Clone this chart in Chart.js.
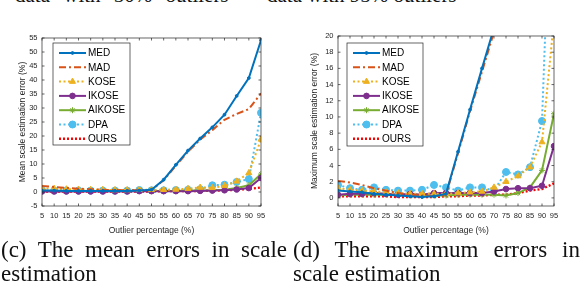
<!DOCTYPE html>
<html>
<head>
<meta charset="utf-8">
<script src="https://cdn.jsdelivr.net/npm/chart.js@4.4.0/dist/chart.umd.min.js"></script>
<style>
body{margin:0;background:#fff;width:580px;height:294px;overflow:hidden;position:relative;font-family:"Liberation Serif","Times New Roman",serif;}
canvas{position:absolute;top:0;}
#c1{left:0px}
#c2{left:290px}
.t{position:absolute;font-size:23px;line-height:23px;white-space:nowrap;color:#111;}
.top{font-size:21px;line-height:21px;}
.j{text-align:justify;text-align-last:justify;white-space:normal;}
</style>
</head>
<body>
<div class="t top" style="left:15px;top:-15px;word-spacing:8px">data with 50% outliers</div>
<div class="t top" style="left:267px;top:-15px">data with 95% outliers</div>
<canvas id="c1" width="290" height="240"></canvas>
<canvas id="c2" width="290" height="240"></canvas>
<div class="t j" style="left:1px;top:238px;width:286px">(c) The mean errors in scale</div>
<div class="t" style="left:1px;top:262px">estimation</div>
<div class="t j" style="left:293px;top:238px;width:287px">(d) The maximum errors in</div>
<div class="t" style="left:293px;top:262px">scale estimation</div>
<script>
// outlier percentages on the x axis
var pct=[5,10,15,20,25,30,35,40,45,50,55,60,65,70,75,80,85,90,95];
var names=['MED','MAD','KOSE','IKOSE','AIKOSE','DPA','OURS'];

// (c) mean scale estimation error (%)
var meanMED   =[0.5,0.5,0.4,0.4,0.4,0.4,0.4,0.4,0.5,0.8,4.4,9.7,14.8,19.1,23.1,27.6,34.3,40.7,54.2];
var meanMAD   =[2.1,1.8,1.5,1.2,1.0,0.8,0.7,0.6,0.6,0.7,4.2,9.4,14.4,18.7,22.1,25.8,27.9,29.6,35.2];
var meanKOSE  =[1.3,1.2,1.0,0.9,0.8,0.8,0.7,0.7,0.8,0.8,0.8,0.9,1.2,1.6,1.5,2.2,3.8,6.8,18.8];
var meanIKOSE =[0.2,0.2,0.2,0.2,0.2,0.2,0.2,0.2,0.3,0.3,0.3,0.3,0.3,0.4,0.5,0.6,0.9,1.4,5.0];
var meanAIKOSE=[0.4,0.4,0.4,0.4,0.4,0.4,0.4,0.4,0.4,0.4,0.4,0.4,0.5,0.5,0.6,0.8,1.4,2.4,6.4];
var meanDPA   =[0.6,0.5,0.5,0.5,0.5,0.5,0.5,0.5,0.7,0.6,0.6,0.7,0.8,1.0,2.4,2.6,3.6,4.6,28.3];
var meanOURS  =[0.2,0.2,0.2,0.2,0.2,0.2,0.2,0.2,0.2,0.2,0.3,0.3,0.3,0.4,0.5,0.6,0.8,1.1,1.6];

// (d) maximum scale estimation error (%)
var maxMED   =[0.9,0.8,0.7,0.5,0.4,0.3,0.2,0.1,0.2,0.5,5.7,10.9,16.0,21.0,26,32,39,47,58];
var maxMAD   =[2.1,1.9,1.6,1.2,0.9,0.6,0.4,0.3,0.2,0.4,5.5,10.7,15.6,20.5,26,31,38,46,57];
var maxKOSE  =[1.2,1.0,0.9,0.8,0.7,0.6,0.5,0.5,0.5,0.5,0.6,0.7,0.8,1.3,2.0,2.7,3.8,6.9,22];
var maxIKOSE =[0.4,0.5,0.5,0.6,0.5,0.4,0.5,0.4,0.6,0.6,0.6,0.6,0.6,0.8,1.1,1.2,1.2,1.5,6.4];
var maxAIKOSE=[0.3,0.4,0.4,0.4,0.4,0.4,0.3,0.3,0.3,0.3,0.4,0.4,0.4,0.4,0.3,0.6,1.3,3.4,10.4];
var maxDPA   =[1.6,1.2,1.0,1.3,1.0,0.9,0.9,1.0,1.6,1.3,0.9,1.3,1.3,0.9,3.2,2.9,3.8,9.5,50];
var maxOURS  =[0.2,0.2,0.2,0.2,0.2,0.1,0.1,0.1,0.1,0.2,0.2,0.3,0.3,0.4,0.4,0.6,0.9,1.1,1.8];

var meanTicks=[-5,0,5,10,15,20,25,30,35,40,45,50,55];
var maxTicks=[0,2,4,6,8,10,12,14,16,18,20];

var looks={
  MED:   {color:'#0072BD',dash:[],        style:'circle',  r:1.4},
  MAD:   {color:'#D95319',dash:[7,3,2,3], style:false,     r:0},
  KOSE:  {color:'#EDB120',dash:[2,2.5],   style:'triangle',r:3.5},
  IKOSE: {color:'#7E2F8E',dash:[],        style:'circle',  r:2.8},
  AIKOSE:{color:'#77AC30',dash:[],        style:'star',    r:3},
  DPA:   {color:'#4DBEEE',dash:[2,2.5],   style:'circle',  r:3.5},
  OURS:  {color:'#FF0000',dash:[2,2],     style:false,     r:0}
};
var ink='#262626';
var sans='"Liberation Sans", Helvetica, Arial, sans-serif';

function pts(vals){
  var out=[];
  for(var i=0;i<pct.length;i++) out.push({x:pct[i],y:vals[i]});
  return out;
}

var framePlugin={
  id:'frame',
  afterDraw:function(chart){
    var ctx=chart.ctx, a=chart.chartArea, xs=chart.scales.x, ys=chart.scales.y, k=2.5;
    ctx.save();
    ctx.strokeStyle=ink; ctx.lineWidth=0.7; ctx.setLineDash([]);
    ctx.strokeRect(a.left,a.top,a.right-a.left,a.bottom-a.top);
    ctx.beginPath();
    xs.ticks.forEach(function(t){
      var p=xs.getPixelForValue(t.value);
      ctx.moveTo(p,a.bottom); ctx.lineTo(p,a.bottom-k);
      ctx.moveTo(p,a.top); ctx.lineTo(p,a.top+k);
    });
    ys.ticks.forEach(function(t){
      var p=ys.getPixelForValue(t.value);
      ctx.moveTo(a.left,p); ctx.lineTo(a.left+k,p);
      ctx.moveTo(a.right,p); ctx.lineTo(a.right-k,p);
    });
    ctx.stroke();
    ctx.restore();
  }
};

var boxLegend={
  id:'boxLegend',
  afterDraw:function(chart,args,opts){
    var ctx=chart.ctx, a=chart.chartArea;
    var bx=a.left+opts.dx, by=a.top+opts.dy, bw=opts.w, bh=opts.h;
    ctx.save();
    ctx.fillStyle='#fff';
    ctx.fillRect(bx,by,bw,bh);
    ctx.strokeStyle=ink; ctx.lineWidth=0.7;
    ctx.strokeRect(bx,by,bw,bh);
    ctx.font='10px '+sans;
    ctx.textBaseline='middle';
    chart.data.datasets.forEach(function(ds,i){
      var y=by+10+i*14.3, x0=bx+6, x1=bx+33;
      ctx.strokeStyle=ds.borderColor; ctx.lineWidth=ds.borderWidth;
      ctx.setLineDash(ds.borderDash);
      ctx.beginPath(); ctx.moveTo(x0,y); ctx.lineTo(x1,y); ctx.stroke();
      ctx.setLineDash([]);
      if(ds.pointStyle && Chart.helpers && Chart.helpers.drawPoint){
        ctx.fillStyle=ds.borderColor; ctx.strokeStyle=ds.borderColor; ctx.lineWidth=1;
        Chart.helpers.drawPoint(ctx,{pointStyle:ds.pointStyle,radius:ds.pointRadius,rotation:0,borderWidth:1},(x0+x1)/2,y);
      }
      ctx.fillStyle='#000';
      ctx.fillText(ds.label,bx+35,y+0.5);
    });
    ctx.restore();
  }
};

function makeChart(id,series,c){
  var datasets=names.map(function(n,i){
    var lk=looks[n];
    return {
      label:n, data:pts(series[i]),
      borderColor:lk.color, backgroundColor:lk.color,
      borderWidth:n=='OURS'?2.4:2, borderDash:lk.dash,
      pointStyle:lk.style, pointRadius:lk.r,
      pointBorderWidth:1, pointBackgroundColor:lk.color, pointBorderColor:lk.color,
      tension:0, fill:false
    };
  });
  return new Chart(document.getElementById(id),{
    type:'line',
    data:{datasets:datasets},
    options:{
      responsive:false, animation:false,
      layout:{padding:{left:0,top:c.top,right:c.right,bottom:0}},
      plugins:{legend:{display:false},tooltip:{enabled:false},boxLegend:c.legend},
      scales:{
        x:{
          type:'linear', min:5, max:95,
          afterBuildTicks:function(s){ s.ticks=pct.map(function(v){return {value:v};}); },
          afterFit:function(s){ s.height=34; },
          grid:{display:false,drawTicks:false}, border:{display:false},
          ticks:{color:ink,font:{family:sans,size:7.5},padding:5,maxRotation:0,autoSkip:false},
          title:{display:true,text:'Outlier percentage (%)',color:ink,font:{family:sans,size:8.5},padding:{top:0,bottom:4}}
        },
        y:{
          min:c.yMin, max:c.yMax,
          afterBuildTicks:function(s){ s.ticks=c.ticks.map(function(v){return {value:v};}); },
          afterFit:function(s){ s.width=c.yWidth; },
          grid:{display:false,drawTicks:false}, border:{display:false},
          ticks:{color:ink,font:{family:sans,size:7.5},padding:4.5,autoSkip:false},
          title:{display:true,text:c.yTitle,color:ink,font:{family:sans,size:8.5},padding:{top:c.titlePad,bottom:0}}
        }
      }
    },
    plugins:[framePlugin,boxLegend]
  });
}

makeChart('c1',[meanMED,meanMAD,meanKOSE,meanIKOSE,meanAIKOSE,meanDPA,meanOURS],{
  yMin:-5, yMax:55, ticks:meanTicks, yTitle:'Mean scale estimation error (%)',
  top:38, right:29, yWidth:42, titlePad:18,
  legend:{dx:11,dy:5,w:77,h:102}
});
makeChart('c2',[maxMED,maxMAD,maxKOSE,maxIKOSE,maxAIKOSE,maxDPA,maxOURS],{
  yMin:-1, yMax:20, ticks:maxTicks, yTitle:'Maximum scale estimation error (%)',
  top:36, right:26, yWidth:48, titlePad:20,
  legend:{dx:9,dy:7,w:76,h:103}
});
</script>
</body>
</html>
